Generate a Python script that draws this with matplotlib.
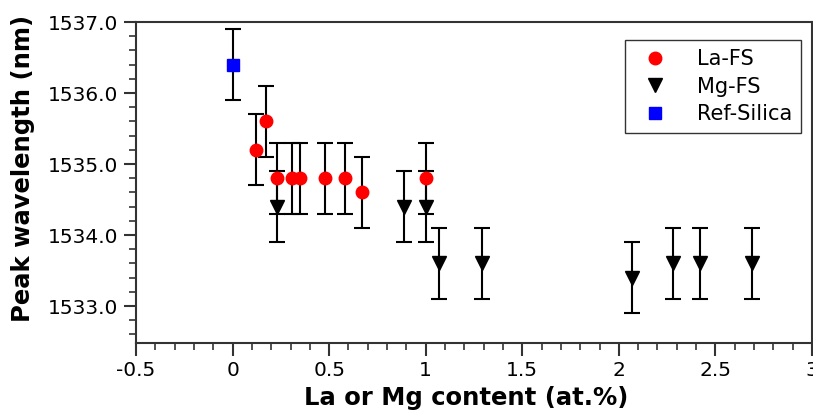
import matplotlib.pyplot as plt
from matplotlib.ticker import MultipleLocator, FixedFormatter, FixedLocator

# La-FS samples
la_x = [0.12, 0.175, 0.23, 0.31, 0.35, 0.48, 0.58, 0.67, 1.0]
la_y = [1535.2, 1535.6, 1534.8, 1534.8, 1534.8, 1534.8, 1534.8, 1534.6, 1534.8]
la_err = [0.5] * len(la_x)

# Mg-FS samples
mg_x = [0.23, 0.89, 1.0, 1.07, 1.29, 2.07, 2.28, 2.42, 2.69]
mg_y = [1534.4, 1534.4, 1534.4, 1533.6, 1533.6, 1533.4, 1533.6, 1533.6, 1533.6]
mg_err = [0.5] * len(mg_x)

# reference silica
ref_x = [0.0]
ref_y = [1536.4]
ref_err = [0.5]

plt.rcParams['font.family'] = 'DejaVu Sans'

fig = plt.figure(figsize=(8.13, 4.16), dpi=100)
ax = fig.add_axes([136 / 813, 1 - 343 / 416, (812 - 136) / 813, (343 - 22) / 416])

eb = dict(ecolor='black', elinewidth=1.5, capsize=6, capthick=1.5, linestyle='none')
ax.errorbar(ref_x, ref_y, yerr=ref_err, marker='s', color='#0000ff', markersize=8, label='Ref-Silica', zorder=3, **eb)
ax.errorbar(la_x, la_y, yerr=la_err, marker='o', color='#ff0000', markersize=9, label='La-FS', zorder=3, **eb)
ax.errorbar(mg_x, mg_y, yerr=mg_err, marker='v', color='black', markersize=10, label='Mg-FS', zorder=3, **eb)

ax.set_xlim(-0.5, 3.0)
ax.set_ylim(1532.48, 1537.0)
ax.xaxis.set_major_locator(FixedLocator([-0.5, 0, 0.5, 1, 1.5, 2, 2.5, 3]))
ax.xaxis.set_major_formatter(FixedFormatter(['-0.5', '0', '0.5', '1', '1.5', '2', '2.5', '3']))
ax.xaxis.set_minor_locator(MultipleLocator(0.1))
ax.yaxis.set_major_locator(MultipleLocator(1.0))
ax.yaxis.set_major_formatter(plt.FormatStrFormatter('%.1f'))
ax.yaxis.set_minor_locator(MultipleLocator(0.2))

ax.tick_params(which='major', direction='out', length=9, width=1.5, labelsize=14.5, color='#333333', pad=4)
ax.tick_params(which='minor', direction='out', length=5, width=1.2, color='#333333')
for s in ax.spines.values():
    s.set_linewidth(1.5)
    s.set_color('#333333')

ax.set_xlabel('La or Mg content (at.%)', fontsize=17.5, fontweight='bold')
ax.set_ylabel('Peak wavelength (nm)', fontsize=17.5, fontweight='bold')
ax.xaxis.set_label_coords(0.488, -0.135)
ax.yaxis.set_label_coords(-0.15, 0.545)

handles, labels = ax.get_legend_handles_labels()
order = [1, 2, 0]
leg = ax.legend([handles[i][0] for i in order], [labels[i] for i in order],
                loc='upper right', bbox_to_anchor=(0.984, 0.944), borderaxespad=0,
                fontsize=15, frameon=True, fancybox=False, edgecolor='black',
                handletextpad=1.0, borderpad=0.45, labelspacing=0.35)
leg.get_frame().set_linewidth(1.0)

fig.savefig('out.png', dpi=100)
